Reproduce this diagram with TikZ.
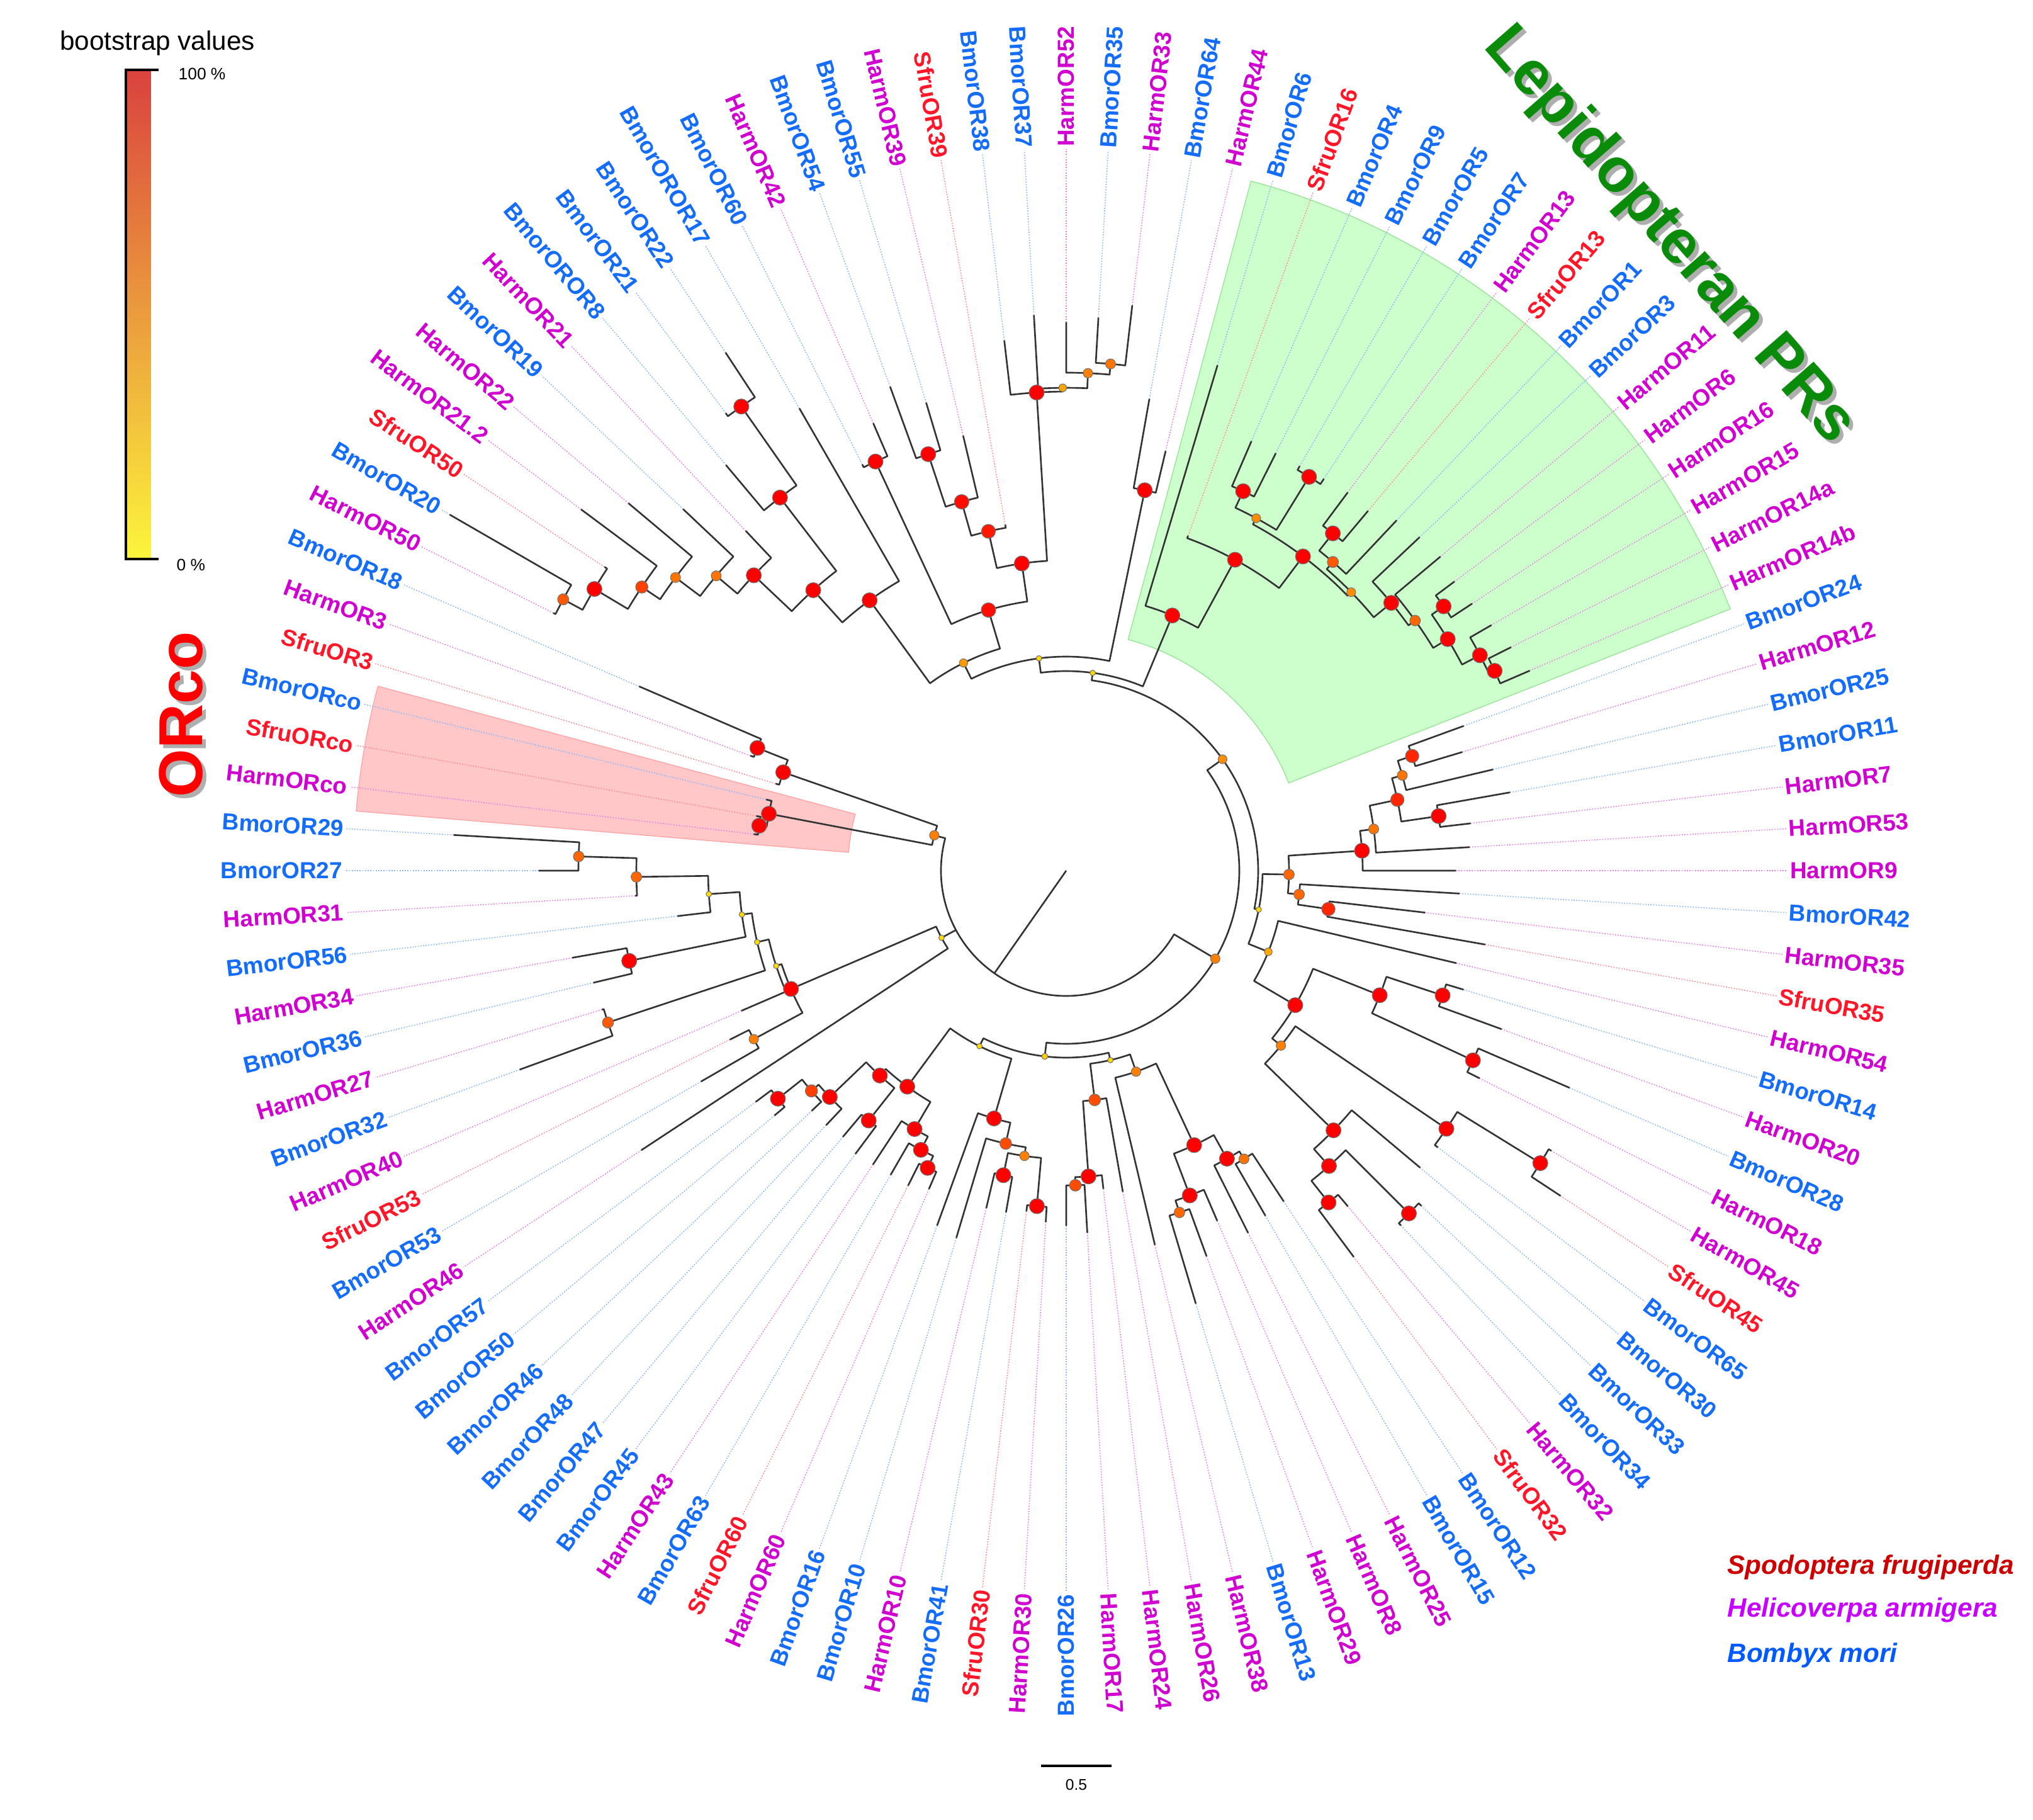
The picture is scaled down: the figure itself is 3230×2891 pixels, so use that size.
\documentclass[tikz,border=0pt]{standalone}
\usepackage{fontspec}
\setmainfont{Liberation Sans}
\pgfdeclarelayer{back}
\pgfdeclarelayer{front}
\pgfsetlayers{back,main,front}

\definecolor{bmor}{RGB}{20,108,250}
\definecolor{harm}{RGB}{208,0,208}
\definecolor{sfru}{RGB}{255,22,40}
\definecolor{lepigreen}{RGB}{10,140,10}
\definecolor{barhi}{RGB}{218,66,62}
\definecolor{barmid}{RGB}{232,140,64}
\definecolor{barlo}{RGB}{252,245,60}

% leaf: index, end radius, species colour, text
\newcommand\ortip[4]{%
  \pgfmathsetmacro\tipang{(53-#1)*10/3}%
  \expandafter\xdef\csname ang-t#1\endcsname{\tipang}%
  \coordinate (t#1) at (\tipang:#2);
  \ifdim\tipang pt>90.01pt \def\labside{east}\pgfmathsetmacro\labrot{\tipang-180}%
  \else\ifdim\tipang pt>-89.99pt \def\labside{west}\let\labrot\tipang
  \else\def\labside{east}\pgfmathsetmacro\labrot{\tipang+180}\fi\fi
  \node[tiplabel, text=#3, anchor=\labside, rotate=\labrot] (l#1) at (\tipang:1146) {#4};
  \draw[tipdots, #3!50] (t#1) -- (l#1.\labside);
}

% inner node: name, radius, first child, second child, bootstrap
\newcommand\orclade[5]{%
  \pgfmathsetmacro\anga{\csname ang-#3\endcsname}%
  \pgfmathsetmacro\angb{\csname ang-#4\endcsname}%
  \pgfmathsetmacro\cang{(\anga+\angb)/2}%
  \expandafter\xdef\csname ang-#1\endcsname{\cang}%
  \coordinate (#1) at (\cang:#2);
  \coordinate (#3-f) at (\anga:#2);
  \coordinate (#4-f) at (\angb:#2);
  \draw[branch] (#3) -- (#3-f) arc[start angle=\anga, end angle=\angb, radius=#2] -- (#4);
  \begin{pgfonlayer}{front}
    \filldraw[support=#5] (#1) circle[radius=3+0.09*#5];
  \end{pgfonlayer}
}

\begin{document}
\begin{tikzpicture}[x=0.01cm, y=0.01cm,
    branch/.style={line width=0.75pt, draw=black!80, line join=round},
    tipdots/.style={line width=0.45pt, dash pattern=on 0.5pt off 0.7pt},
    support/.style={fill=red!#1!yellow, draw=black!55, line width=0.3pt},
    tiplabel/.style={font=\bfseries\fontsize{10.5}{12}\selectfont, inner sep=1pt},
    bigtitle/.style={font=\bfseries\fontsize{28}{30}\selectfont, inner sep=0pt},
    species/.style={font=\bfseries\itshape\fontsize{12}{14}\selectfont, anchor=west, inner sep=0pt},
    lepiwedge/.style={fill=green!20, draw=black!25!green!40, line width=0.4pt},
    orcowedge/.style={fill=red!22, draw=red!35, line width=0.4pt},
  ]
  \useasboundingbox (-1694,-1508) rectangle (1536,1383);

  % highlighted clades
  \begin{pgfonlayer}{back}
    \fill[white] (-1694,-1508) rectangle (1536,1383);
    \filldraw[lepiwedge] (21.5:380) arc[start angle=21.5, end angle=75, radius=380]
      -- (75:1134) arc[start angle=75, end angle=21.5, radius=1134] -- cycle;
    \filldraw[orcowedge] (165:347) arc[start angle=165, end angle=175.2, radius=347]
      -- (175.2:1132) arc[start angle=175.2, end angle=165, radius=1132] -- cycle;
  \end{pgfonlayer}

  % leaves
  \ortip{1}{500}{harm}{HarmORco}
  \ortip{2}{500}{sfru}{SfruORco}
  \ortip{3}{490}{bmor}{BmorORco}
  \ortip{4}{482}{sfru}{SfruOR3}
  \ortip{5}{534}{harm}{HarmOR3}
  \ortip{6}{739}{bmor}{BmorOR18}
  \ortip{7}{912}{harm}{HarmOR50}
  \ortip{8}{1131}{bmor}{BmorOR20}
  \ortip{9}{878}{sfru}{SfruOR50}
  \ortip{10}{961}{harm}{HarmOR21.2}
  \ortip{11}{908}{harm}{HarmOR22}
  \ortip{12}{837}{bmor}{BmorOR19}
  \ortip{13}{742}{harm}{HarmOR21}
  \ortip{14}{841}{bmor}{BmorOROR8}
  \ortip{15}{906}{bmor}{BmorOR21}
  \ortip{16}{985}{bmor}{BmorOR22}
  \ortip{17}{848}{bmor}{BmorOROR17}
  \ortip{18}{722}{bmor}{BmorOR60}
  \ortip{19}{774}{harm}{HarmOR42}
  \ortip{20}{818}{bmor}{BmorOR54}
  \ortip{21}{776}{bmor}{BmorOR55}
  \ortip{22}{710}{harm}{HarmOR39}
  \ortip{23}{558}{sfru}{SfruOR39}
  \ortip{24}{848}{bmor}{BmorOR38}
  \ortip{25}{884}{bmor}{BmorOR37}
  \ortip{26}{871}{harm}{HarmOR52}
  \ortip{27}{880}{bmor}{BmorOR35}
  \ortip{28}{904}{harm}{HarmOR33}
  \ortip{29}{761}{bmor}{BmorOR64}
  \ortip{30}{685}{harm}{HarmOR44}
  \ortip{31}{838}{bmor}{BmorOR6}
  \ortip{32}{566}{sfru}{SfruOR16}
  \ortip{33}{743}{bmor}{BmorOR4}
  \ortip{34}{742}{bmor}{BmorOR9}
  \ortip{35}{742}{bmor}{BmorOR5}
  \ortip{36}{745}{bmor}{BmorOR7}
  \ortip{37}{749}{harm}{HarmOR13}
  \ortip{38}{746}{sfru}{SfruOR13}
  \ortip{39}{765}{bmor}{BmorOR1}
  \ortip{40}{772}{bmor}{BmorOR3}
  \ortip{41}{776}{harm}{HarmOR11}
  \ortip{42}{769}{harm}{HarmOR6}
  \ortip{43}{772}{harm}{HarmOR16}
  \ortip{44}{780}{harm}{HarmOR15}
  \ortip{45}{791}{harm}{HarmOR14a}
  \ortip{46}{802}{harm}{HarmOR14b}
  \ortip{47}{672}{bmor}{BmorOR24}
  \ortip{48}{657}{harm}{HarmOR12}
  \ortip{49}{697}{bmor}{BmorOR25}
  \ortip{50}{716}{bmor}{BmorOR11}
  \ortip{51}{647}{harm}{HarmOR7}
  \ortip{52}{642}{harm}{HarmOR53}
  \ortip{53}{619}{harm}{HarmOR9}
  \ortip{54}{626}{bmor}{BmorOR42}
  \ortip{55}{574}{harm}{HarmOR35}
  \ortip{56}{676}{sfru}{SfruOR35}
  \ortip{57}{637}{harm}{HarmOR54}
  \ortip{58}{659}{bmor}{BmorOR14}
  \ortip{59}{736}{harm}{HarmOR20}
  \ortip{60}{871}{bmor}{BmorOR28}
  \ortip{61}{735}{harm}{HarmOR18}
  \ortip{62}{890}{harm}{HarmOR45}
  \ortip{63}{940}{sfru}{SfruOR45}
  \ortip{64}{736}{bmor}{BmorOR65}
  \ortip{65}{734}{bmor}{BmorOR30}
  \ortip{66}{776}{bmor}{BmorOR33}
  \ortip{67}{775}{bmor}{BmorOR34}
  \ortip{68}{696}{harm}{HarmOR32}
  \ortip{69}{765}{sfru}{SfruOR32}
  \ortip{70}{629}{bmor}{BmorOR12}
  \ortip{71}{633}{bmor}{BmorOR15}
  \ortip{72}{644}{harm}{HarmOR25}
  \ortip{73}{606}{harm}{HarmOR8}
  \ortip{74}{652}{harm}{HarmOR29}
  \ortip{75}{718}{bmor}{BmorOR13}
  \ortip{76}{611}{harm}{HarmOR38}
  \ortip{77}{518}{harm}{HarmOR26}
  \ortip{78}{509}{harm}{HarmOR24}
  \ortip{79}{576}{harm}{HarmOR17}
  \ortip{80}{564}{bmor}{BmorOR26}
  \ortip{81}{559}{harm}{HarmOR30}
  \ortip{82}{545}{sfru}{SfruOR30}
  \ortip{83}{551}{bmor}{BmorOR41}
  \ortip{84}{551}{harm}{HarmOR10}
  \ortip{85}{609}{bmor}{BmorOR10}
  \ortip{86}{600}{bmor}{BmorOR16}
  \ortip{87}{551}{harm}{HarmOR60}
  \ortip{88}{560}{sfru}{SfruOR60}
  \ortip{89}{558}{bmor}{BmorOR63}
  \ortip{90}{559}{harm}{HarmOR43}
  \ortip{91}{561}{bmor}{BmorOR45}
  \ortip{92}{552}{bmor}{BmorOR47}
  \ortip{93}{556}{bmor}{BmorOR48}
  \ortip{94}{556}{bmor}{BmorOR46}
  \ortip{95}{605}{bmor}{BmorOR50}
  \ortip{96}{615}{bmor}{BmorOR57}
  \ortip{97}{808}{harm}{HarmOR46}
  \ortip{98}{670}{bmor}{BmorOR53}
  \ortip{99}{598}{sfru}{SfruOR53}
  \ortip{100}{562}{harm}{HarmOR40}
  \ortip{101}{924}{bmor}{BmorOR32}
  \ortip{102}{770}{harm}{HarmOR27}
  \ortip{103}{772}{bmor}{BmorOR36}
  \ortip{104}{797}{harm}{HarmOR34}
  \ortip{105}{622}{bmor}{BmorOR56}
  \ortip{106}{686}{harm}{HarmOR31}
  \ortip{107}{838}{bmor}{BmorOR27}
  \ortip{108}{975}{bmor}{BmorOR29}

  % ORco and neighbours
  \orclade{n1x2}{493}{t1}{t2}{100}
  \orclade{n1x3}{481}{n1x2}{t3}{100}
  \orclade{n5x6}{528}{t5}{t6}{100}
  \orclade{n4x6}{476}{t4}{n5x6}{100}
  \orclade{n1x6}{217}{n1x3}{n4x6}{50}

  % upper left
  \orclade{n7x8}{908}{t7}{t8}{65}
  \orclade{n7x9}{873}{t9}{n7x8}{100}
  \orclade{n7x10}{811}{t10}{n7x9}{75}
  \orclade{n7x11}{776}{t11}{n7x10}{55}
  \orclade{n7x12}{727}{t12}{n7x11}{55}
  \orclade{n7x13}{683}{t13}{n7x12}{100}
  \orclade{n15x16}{900}{t15}{t16}{100}
  \orclade{n14x16}{747}{t14}{n15x16}{100}
  \orclade{n7x16}{600}{n14x16}{n7x13}{100}
  \orclade{n7x17}{531}{t17}{n7x16}{100}

  % top
  \orclade{n18x19}{717}{t18}{t19}{100}
  \orclade{n20x21}{697}{t20}{t21}{100}
  \orclade{n20x22}{609}{n20x21}{t22}{95}
  \orclade{n20x23}{553}{n20x22}{t23}{90}
  \orclade{n27x28}{808}{t27}{t28}{55}
  \orclade{n26x28}{791}{t26}{n27x28}{50}
  \orclade{n25x28}{767}{t25}{n26x28}{35}
  \orclade{n24x28}{761}{t24}{n25x28}{100}
  \orclade{n20x28}{493}{n20x23}{n24x28}{100}
  \orclade{n18x28}{432}{n18x19}{n20x28}{95}
  \orclade{n7x28}{368}{n7x17}{n18x28}{40}
  \orclade{n29x30}{617}{t29}{t30}{100}
  \orclade{n7x30}{340}{n7x28}{n29x30}{15}

  % Lepidopteran PRs
  \orclade{n33x34}{665}{t33}{t34}{100}
  \orclade{n35x36}{735}{t35}{t36}{100}
  \orclade{n33x36}{636}{n33x34}{n35x36}{45}
  \orclade{n37x38}{683}{t37}{t38}{100}
  \orclade{n37x39}{648}{n37x38}{t39}{65}
  \orclade{n45x46}{751}{t45}{t46}{100}
  \orclade{n44x46}{741}{t44}{n45x46}{100}
  \orclade{n42x43}{732}{t42}{t43}{100}
  \orclade{n42x46}{709}{n42x43}{n44x46}{100}
  \orclade{n41x46}{682}{t41}{n42x46}{60}
  \orclade{n40x46}{669}{t40}{n41x46}{100}
  \orclade{n37x46}{633}{n37x39}{n40x46}{45}
  \orclade{n33x46}{625}{n33x36}{n37x46}{100}
  \orclade{n32x46}{562}{t32}{n33x46}{100}
  \orclade{n31x46}{439}{t31}{n32x46}{100}
  \orclade{n7x46}{317}{n7x30}{n31x46}{15}

  % right side
  \orclade{n47x48}{579}{t47}{t48}{85}
  \orclade{n47x49}{555}{n47x48}{t49}{55}
  \orclade{n50x51}{598}{t50}{t51}{100}
  \orclade{n47x51}{538}{n47x49}{n50x51}{85}
  \orclade{n47x52}{493}{n47x51}{t52}{55}
  \orclade{n47x53}{471}{n47x52}{t53}{100}
  \orclade{n55x56}{421}{t55}{t56}{85}
  \orclade{n54x56}{372}{t54}{n55x56}{60}
  \orclade{n47x56}{354}{n47x53}{n54x56}{60}
  \orclade{n58x59}{630}{t58}{t59}{100}
  \orclade{n60x61}{713}{t60}{t61}{100}
  \orclade{n58x61}{536}{n58x59}{n60x61}{100}
  \orclade{n62x63}{885}{t62}{t63}{100}
  \orclade{n62x64}{730}{n62x63}{t64}{100}
  \orclade{n66x67}{770}{t66}{t67}{100}
  \orclade{n68x69}{672}{t68}{t69}{100}
  \orclade{n66x69}{628}{n66x67}{n68x69}{100}
  \orclade{n65x69}{592}{t65}{n66x69}{100}
  \orclade{n62x69}{440}{n62x64}{n65x69}{50}
  \orclade{n58x69}{422}{n58x61}{n62x69}{100}
  \orclade{n57x69}{346}{t57}{n58x69}{35}
  \orclade{n47x69}{312}{n47x56}{n57x69}{15}
  \orclade{n7x69}{305}{n7x46}{n47x69}{45}

  % bottom
  \orclade{n70x71}{538}{t70}{t71}{55}
  \orclade{n70x72}{524}{n70x71}{t72}{100}
  \orclade{n74x75}{572}{t74}{t75}{60}
  \orclade{n73x75}{552}{t73}{n74x75}{100}
  \orclade{n70x75}{481}{n70x72}{n73x75}{100}
  \orclade{n70x76}{338}{n70x75}{t76}{50}
  \orclade{n79x80}{500}{t79}{t80}{70}
  \orclade{n78x80}{487}{t78}{n79x80}{100}
  \orclade{n77x80}{367}{t77}{n78x80}{70}
  \orclade{n70x80}{309}{n70x76}{n77x80}{15}
  \orclade{n81x82}{535}{t81}{t82}{100}
  \orclade{n83x84}{494}{t83}{t84}{100}
  \orclade{n81x84}{458}{n81x82}{n83x84}{50}
  \orclade{n81x85}{444}{n81x84}{t85}{70}
  \orclade{n81x86}{410}{n81x85}{t86}{100}
  \orclade{n87x88}{521}{t87}{t88}{100}
  \orclade{n87x89}{500}{n87x88}{t89}{100}
  \orclade{n87x90}{476}{n87x89}{t90}{100}
  \orclade{n91x92}{506}{t91}{t92}{100}
  \orclade{n95x96}{584}{t95}{t96}{100}
  \orclade{n94x96}{535}{t94}{n95x96}{75}
  \orclade{n93x96}{520}{t93}{n94x96}{100}
  \orclade{n91x96}{440}{n91x92}{n93x96}{100}
  \orclade{n87x96}{426}{n87x90}{n91x96}{100}
  \orclade{n81x96}{311}{n81x86}{n87x96}{15}
  \orclade{n70x96}{297}{n81x96}{n70x80}{20}
  \orclade{n7x96}{275}{n7x69}{n70x96}{50}

  % lower left
  \orclade{n107x108}{775}{t107}{t108}{60}
  \orclade{n106x108}{683}{t106}{n107x108}{60}
  \orclade{n105x108}{569}{t105}{n106x108}{15}
  \orclade{n103x104}{709}{t103}{t104}{100}
  \orclade{n103x108}{520}{n103x104}{n105x108}{15}
  \orclade{n101x102}{767}{t101}{t102}{65}
  \orclade{n101x108}{504}{n101x102}{n103x108}{15}
  \orclade{n100x108}{485}{t100}{n101x108}{15}
  \orclade{n98x99}{564}{t98}{t99}{50}
  \orclade{n98x108}{476}{n98x99}{n100x108}{100}
  \orclade{n97x108}{225}{t97}{n98x108}{15}

  % root
  \pgfmathsetmacro\angx{\csname ang-n7x96\endcsname}
  \pgfmathsetmacro\angl{\csname ang-n1x6\endcsname-360}
  \pgfmathsetmacro\angq{\csname ang-n97x108\endcsname}
  \coordinate (root) at (0,0);
  \coordinate (rootfoot) at (-125:199);
  \coordinate (n7x96-f) at (\angx:199);
  \coordinate (n1x6-f) at (\angl:199);
  \coordinate (n97x108-f) at (\angq:199);
  \draw[branch] (n7x96) -- (n7x96-f) arc[start angle=\angx, end angle=\angl, radius=199] -- (n1x6);
  \draw[branch] (n97x108-f) -- (n97x108);
  \draw[branch] (root) -- (rootfoot);

  % clade titles
  \node[bigtitle, text=black!45, opacity=0.7, rotate=90] at (-1400,242) {ORco};
  \node[bigtitle, text=red, rotate=90] (orcotitle) at (-1406,248) {ORco};
  \node[bigtitle, text=black!45, opacity=0.7, rotate=-48.9] at (964,1002) {Lepidopteran PRs};
  \node[bigtitle, text=lepigreen, rotate=-48.9] (lepititle) at (958,1008) {Lepidopteran PRs};

  % bootstrap legend
  \node[font=\fontsize{12}{14}\selectfont, inner sep=0pt] (boottitle) at (-1444,1314) {bootstrap values};
  \shade[top color=barhi, middle color=barmid, bottom color=barlo] (-1494,495) rectangle (-1454,1272);
  \coordinate (barhi) at (-1494,1272);
  \coordinate (barlo) at (-1494,495);
  \coordinate (tickhi) at (-1442,1272);
  \coordinate (ticklo) at (-1442,495);
  \draw[line width=0.9pt] (tickhi) -- (barhi) -- (barlo) -- (ticklo);
  \node[font=\fontsize{7.5}{9}\selectfont, anchor=west, inner sep=0pt] (hilabel) at (-1411,1266) {100 \%};
  \node[font=\fontsize{7.5}{9}\selectfont, anchor=west, inner sep=0pt] (lolabel) at (-1414,486) {0 \%};

  % species legend
  \node[species, text=red!80!black] (sfruleg) at (1050,-1107) {Spodoptera frugiperda};
  \node[species, text={rgb,255:red,200;green,0;blue,255}] (harmleg) at (1050,-1175) {Helicoverpa armigera};
  \node[species, text={rgb,255:red,0;green,90;blue,255}] (bmorleg) at (1050,-1247) {Bombyx mori};

  % scale bar
  \coordinate (sbl) at (-40,-1422);
  \coordinate (sbr) at (72,-1422);
  \draw[line width=0.9pt] (sbl) -- (sbr);
  \node[font=\fontsize{7}{8}\selectfont] (sbtext) at (16,-1452) {0.5};
\end{tikzpicture}
\end{document}
